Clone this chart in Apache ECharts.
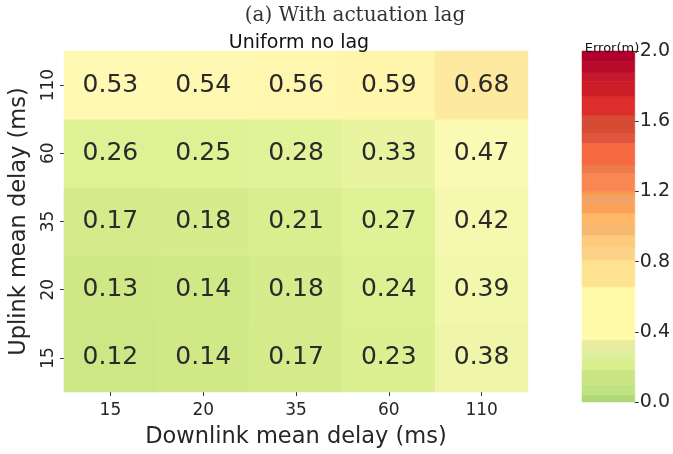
<!DOCTYPE html>
<html>
<head>
<meta charset="utf-8">
<script src="https://cdn.jsdelivr.net/npm/echarts@6/dist/echarts.min.js"></script>
<style>html,body{margin:0;padding:0;background:#fff}#c{width:673px;height:454px}</style>
</head>
<body>
<div id="c"></div>
<script>
// Categories (downlink on x, uplink on y from bottom to top)
const downlink = ['15', '20', '35', '60', '110'];
const uplink = ['15', '20', '35', '60', '110'];
// Error values per uplink row (columns follow downlink order)
const row15 = [0.12, 0.14, 0.17, 0.23, 0.38];
const row20 = [0.13, 0.14, 0.18, 0.24, 0.39];
const row35 = [0.17, 0.18, 0.21, 0.27, 0.42];
const row60 = [0.26, 0.25, 0.28, 0.33, 0.47];
const row110 = [0.53, 0.54, 0.56, 0.59, 0.68];
const rows = [row15, row20, row35, row60, row110];
// Colour scale
const scaleMin = 0, scaleMax = 2;
const colorbarTicks = [0, 0.4, 0.8, 1.2, 1.6, 2.0];
const cellPalette = ['#b8dc7c', '#c9e583', '#d8ee8e', '#e4f39a', '#f2f7ad', '#fffbb8', '#fff4aa', '#fee89b',
  '#fdd98a', '#fdca7c', '#fbb86c', '#f9a45c', '#f98d50', '#f67846', '#f0643e', '#e05239', '#d84434',
  '#dc2f2c', '#cc1e28', '#bf122b', '#b0002a'];
const colorbarEdges = [0, 0.04, 0.097, 0.182, 0.249, 0.296, 0.353, 0.657, 0.809, 0.885, 0.95, 1.009, 1.077,
  1.134, 1.18, 1.198, 1.303, 1.35, 1.475, 1.53, 1.635, 1.74, 1.825, 1.88, 1.94, 2.0];
const colorbarColors = ['#b1d878', '#bde480', '#cbe585', '#d8ef8c', '#dfefa0', '#e9eb9e', '#fffaa8', '#fee391',
  '#fbd288', '#fdca7c', '#f6b76e', '#feb867', '#f9a258', '#f2a468', '#fb9a4f', '#fa8751', '#ec7a4b', '#f56a41',
  '#e0553b', '#d54b34', '#dd2e2c', '#cc1d27', '#c4182d', '#b80a2a', '#b1002b'];

const heatData = [];
rows.forEach((r, yi) => r.forEach((v, xi) => heatData.push([xi, yi, v])));
const bandData = [];
for (let i = 0; i < colorbarColors.length; i++) bandData.push([colorbarEdges[i], colorbarEdges[i + 1], i]);

const FONT = 'DejaVu Sans';
const TXT = '#262626';
const chart = echarts.init(document.getElementById('c'), null, {renderer: 'canvas'});
chart.setOption({
  animation: false,
  backgroundColor: '#fff',
  textStyle: {fontFamily: FONT},
  title: [
    {text: '(a) With actuation lag', left: 350, top: 1, textAlign: 'center',
      textStyle: {fontFamily: 'DejaVu Serif', fontWeight: 'normal', fontSize: 20, color: '#333'}},
    {text: 'Uniform no lag', left: 294, top: 29, textAlign: 'center',
      textStyle: {fontFamily: FONT, fontWeight: 'normal', fontSize: 19, color: '#111'}},
    {text: 'Error(m)', left: 607, top: 37, textAlign: 'center',
      textStyle: {fontFamily: FONT, fontWeight: 'normal', fontSize: 13, color: '#111'}}
  ],
  grid: [
    {left: 58, top: 51, width: 470, height: 351},
    {left: 582, top: 51, width: 54, height: 351}
  ],
  xAxis: [
    {type: 'category', gridIndex: 0, data: downlink,
      axisLine: {show: false}, splitLine: {show: false},
      axisTick: {show: true, alignWithLabel: true, length: 4, lineStyle: {color: '#333'}},
      axisLabel: {fontSize: 17, color: TXT, margin: 10, fontFamily: FONT},
      name: 'Downlink mean delay (ms)', nameLocation: 'middle', nameGap: 34,
      nameTextStyle: {fontSize: 22.5, color: TXT, fontFamily: FONT}},
    {type: 'value', gridIndex: 1, min: 0, max: 1, show: false,
      axisLine: {show: false, onZero: false}, axisTick: {show: false}, axisLabel: {show: false}, splitLine: {show: false}}
  ],
  yAxis: [
    {type: 'category', gridIndex: 0, data: uplink,
      axisLine: {show: false}, splitLine: {show: false},
      axisTick: {show: true, alignWithLabel: true, length: 4, lineStyle: {color: '#333'}},
      axisLabel: {fontSize: 17, color: TXT, rotate: 90, margin: 7, fontFamily: FONT, align: 'center', verticalAlign: 'bottom'},
      name: 'Uplink mean delay (ms)', nameLocation: 'middle', nameGap: 33, nameRotate: 90,
      nameTextStyle: {fontSize: 22.5, color: TXT, fontFamily: FONT}},
    {type: 'value', gridIndex: 1, min: scaleMin, max: scaleMax, interval: 0.4, position: 'right',
      axisLine: {show: false, onZero: false}, splitLine: {show: false}, minorTick: {show: false},
      axisTick: {show: true, length: 4, lineStyle: {color: '#333'}},
      axisLabel: {fontSize: 19, color: TXT, margin: 5, fontFamily: FONT,
        formatter: v => colorbarTicks.some(t => Math.abs(t - v) < 1e-6) ? v.toFixed(1) : ''}}
  ],
  visualMap: {
    show: false, type: 'continuous', min: scaleMin, max: scaleMax, seriesIndex: 0, dimension: 2,
    inRange: {color: cellPalette}
  },
  series: [
    {type: 'heatmap', xAxisIndex: 0, yAxisIndex: 0, data: heatData,
      label: {show: true, fontSize: 25, color: '#2a2a2a', fontFamily: FONT,
        formatter: p => p.value[2].toFixed(2)},
      itemStyle: {borderWidth: 0}, emphasis: {disabled: true}},
    {type: 'custom', xAxisIndex: 1, yAxisIndex: 1, data: bandData, silent: true,
      renderItem: (params, api) => {
        const lo = api.value(0), hi = api.value(1), idx = api.value(2);
        const p0 = api.coord([0, lo]);
        const p1 = api.coord([1, hi]);
        return {type: 'rect', shape: {x: p0[0], y: p1[1], width: p1[0] - p0[0], height: p0[1] - p1[1]},
          style: {fill: colorbarColors[idx], stroke: colorbarColors[idx], lineWidth: 0.5}};
      }}
  ]
});
</script>
</body>
</html>
